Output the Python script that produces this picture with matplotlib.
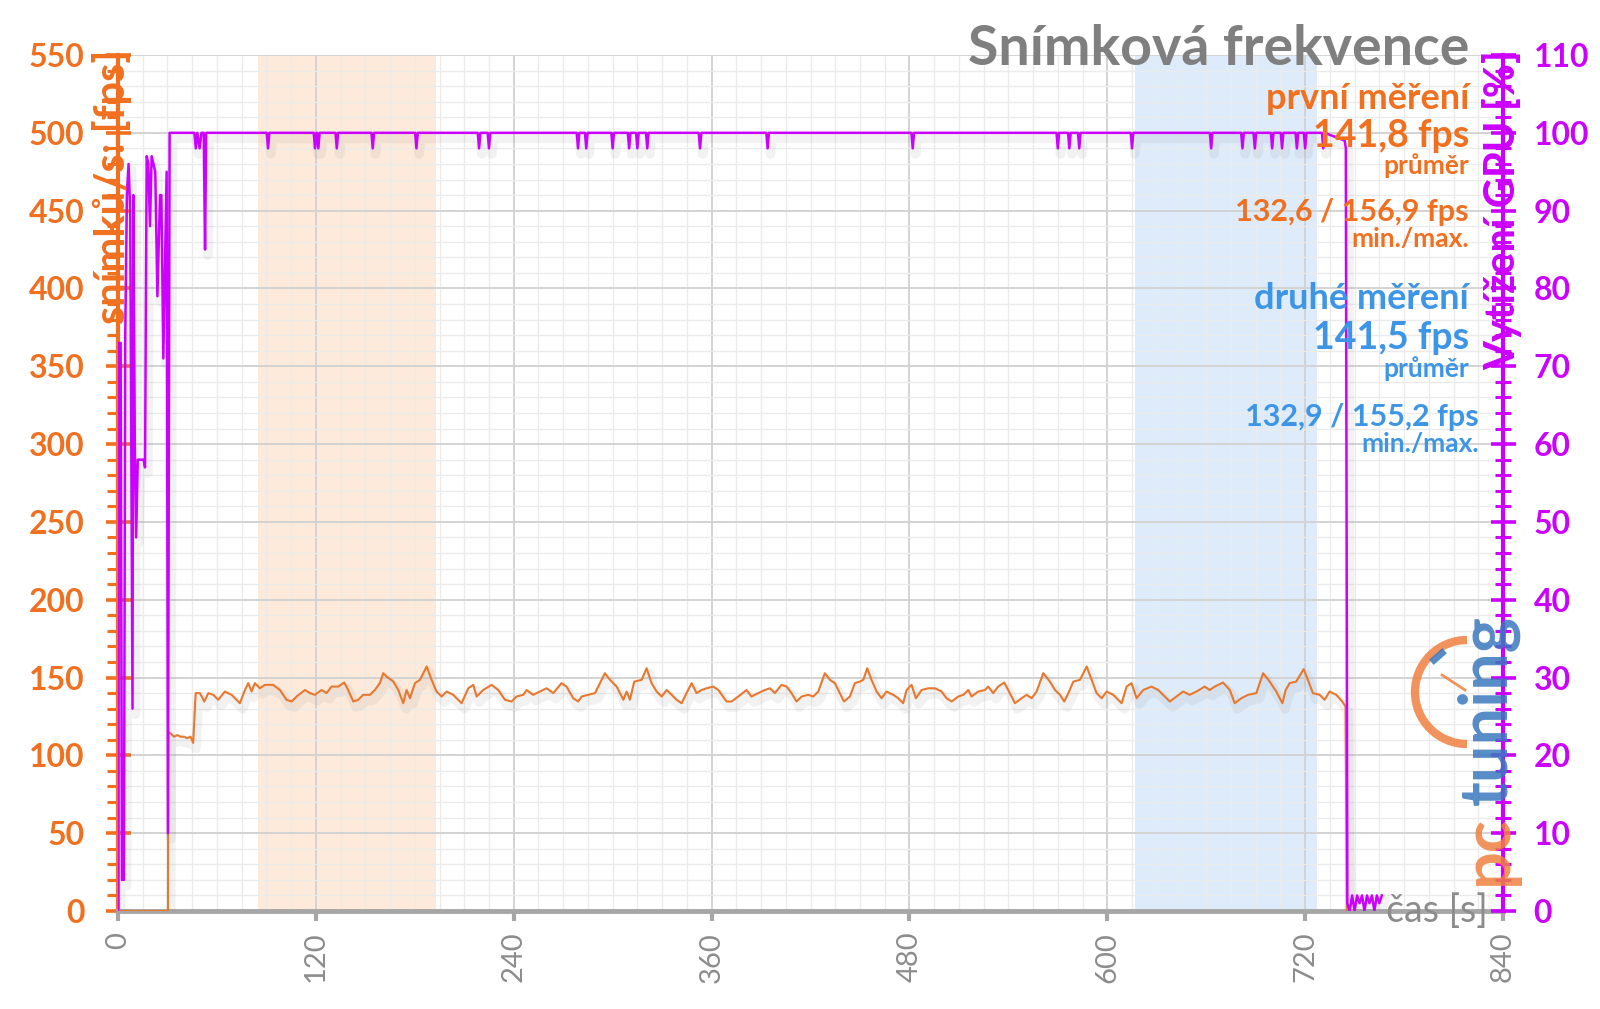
import matplotlib
matplotlib.use('Agg')
import matplotlib.pyplot as plt
import matplotlib.patheffects as pe
from matplotlib.patches import Arc
from matplotlib.ticker import MultipleLocator

plt.rcParams['font.family'] = ['Lato', 'DejaVu Sans']

# ---- data ----
fps_time = [0, 30.3, 30.5, 32, 34, 36, 38, 40, 42, 44, 45.6,
            47.1, 49.7, 52.3, 54.8, 57.8, 60.8, 64.8, 68.9, 73.9, 77, 79, 81, 83, 86, 89.1, 94.1, 98.2,
            102.2, 105.3, 108.3, 113.4, 116.4, 119.4, 123.5, 126.5, 129.5, 133.6, 137.2, 139.6, 142.7,
            145.7, 148.7, 152.8, 155.8, 158.8,
            160.9, 162.9, 167, 170, 173, 175, 177.1, 180.1, 183.1, 187.2, 190.2, 193.2, 196.3, 199.3,
            203.3, 208.4, 212.4, 215.5, 217.5, 221.5, 226.6, 230.6, 234.7, 238.7, 241.7, 245.8, 247.8,
            251.8, 255.9, 259.9, 264, 269, 272, 276.1,
            279.1, 281.2, 285.2, 289.3, 292.3, 295.3, 298.4, 302.4, 306.5, 308.5, 310.5, 313.1, 317.6,
            320.6, 323.6, 326.7, 329.7, 332.7, 335.8, 338.8, 341.8, 344.8, 347.9, 350.9, 353.9, 357,
            361, 364.1, 369.1, 372.1, 376.2, 381.2, 384.2, 388.3, 392.3,
            395.4, 398.4, 402.4, 405.5, 408.5, 411.5, 414.6, 418.6, 421.7, 424.7, 428.7, 431.8, 434.8,
            437.8, 440.3, 443.9, 446.9, 450, 452, 454.4, 457, 460.1, 463.1, 466.1, 470.2, 473.2, 476.2,
            478.3, 481.3, 483.9, 487.4, 491.4, 495.5, 499.5, 502.5, 505.6, 509.6, 512.7,
            515.7, 517.7, 521.7, 525.8, 527.8, 530.8, 533.8, 537.5, 539.9, 544, 548, 551.1, 554.1,
            557.1, 561.2, 565.2, 568.3, 571.3, 573.9, 576.4, 579.4, 583.4, 587.5, 590.5, 593.5, 596.6,
            599.6, 603.6, 608.7, 611.7, 614.7, 617.8, 621.8, 626.8, 630.9,
            634.9, 637.9, 641.9, 646, 650, 654.1, 659.1, 662.1, 665.2, 670.2, 674.3, 677.3, 681.3,
            685.4, 690.4, 694.5, 698.5, 702.5, 706.2, 708.2, 710.6, 714.6, 719.1, 721.7, 724.7, 728.8,
            731.8, 734.8, 738.9, 742.5, 744.5, 745.3]
fps_value = [0, 0, 115, 114, 112, 113, 112, 112, 111, 112, 108,
             140, 140, 134.6, 140, 138.9, 135.7, 141, 138.9, 133.5, 142, 146.4, 141, 146.4, 143.1, 145.3, 145.3, 142,
             135.7, 134.6, 137.8, 142, 140, 138.9, 142, 140, 144.2, 144.2, 146.8, 142, 134.6,
             135.7, 138.9, 138.9, 142, 146.4,
             152.8, 150.6, 147.4, 142, 133.5, 142, 136.7, 146.4, 148.5, 157.1, 148.5, 141, 137.8, 141,
             138.9, 133.5, 143.1, 145.3, 137.8, 142, 145.3, 142, 135.7, 134.6, 137.8, 138.9, 142,
             138.9, 141, 143.1, 140, 146.4, 144.2, 136.7,
             134.6, 137.8, 138.9, 140, 146.4, 152.8, 148.5, 144.2, 135.7, 141, 135.7, 147.4, 148.5,
             156, 146.4, 141, 137.8, 142, 138.9, 135.7, 133.5, 140, 146.4, 140, 142, 143.1,
             144.2, 142, 134.6, 134.6, 137.8, 142, 137.8, 140, 142,
             143.1, 140, 145.3, 144.2, 140, 134.6, 137.8, 138.9, 137.8, 141, 152.8, 148.5, 146.4,
             140, 134.6, 137.8, 146.4, 147.4, 148.5, 156, 148.5, 141, 136.7, 141, 138.9, 136.7, 133.5,
             142, 145.3, 136.7, 142, 143.1, 143.1, 141, 136.7, 134.6, 137.8, 138.9,
             142, 137.8, 141, 142, 144.2, 140, 144.2, 146.8, 142, 133.5, 136.7, 138.9, 136.7,
             141, 152.8, 147.4, 142, 138.9, 134.6, 140, 147.4, 148.5, 157.1, 148.5, 140, 136.7,
             141, 138.9, 133.5, 144.2, 146.4, 136.7, 142, 144.2, 142,
             137.8, 134.6, 137.8, 141, 138.9, 141, 144.2, 142, 144.2, 146.8, 142, 133.5, 136.7,
             138.9, 140, 152.8, 147.4, 141, 133.5, 142, 146.4, 147.4, 155.4, 148.5, 140, 138.9,
             135.7, 141, 138.9, 134.6, 131.4, 0]

gpu_start_time = [0, 0.6, 1.6, 2.4, 3.6, 4.4, 5.4, 6.4, 7.4, 8.8, 9.3, 10.2, 11.0, 12.0, 15.5, 16.4,
                  17.4, 18.4, 19.4, 20.4, 21.5, 22.6, 23.9, 25.5, 26.3, 27.5, 29.5, 30.3, 31.3,
                  46.3, 47.2, 48.1, 49.5, 50.6, 52.0, 52.8, 53.5]
gpu_start_value = [0, 73, 73, 4, 4, 74, 92, 96, 90, 26, 92, 60, 48, 58, 58, 57,
                   97, 96, 88, 97, 96, 95, 79, 92, 92, 71, 95, 10, 100,
                   100, 98, 100, 98, 100, 100, 85, 100]
gpu_dips = [91, 119.5, 121.5, 132.7, 154.5, 181, 219, 225, 279, 284, 300, 310, 315, 321, 353,
            394, 482, 570, 577, 583, 615, 663, 682, 689.5, 700, 706, 715, 720, 731]
gpu_end_time = [744.0, 744.7, 745.6, 747, 748.5, 750, 751.5, 753, 754.5, 756, 757.5, 759, 760.5,
                762, 763.5, 765, 766.5]
gpu_end_value = [99, 98, 1, 0, 2, 0, 2, 1, 2, 0, 2, 1, 2, 0, 2, 1, 2]

orange_window = (85, 193)
blue_window = (617, 727)

fps_ticks = [0, 50, 100, 150, 200, 250, 300, 350, 400, 450, 500, 550]
gpu_ticks = [0, 10, 20, 30, 40, 50, 60, 70, 80, 90, 100, 110]
time_ticks = [0, 120, 240, 360, 480, 600, 720, 840]

# build GPU series from the read points
gpu_time = list(gpu_start_time)
gpu_value = list(gpu_start_value)
for d in gpu_dips:
    gpu_time += [d - 0.8, d, d + 0.8]
    gpu_value += [100, 98, 100]
gpu_time += gpu_end_time
gpu_value += gpu_end_value

ORANGE = '#F07020'
LINE_OR = '#E8782E'
MAGENTA = '#CC00FF'
BLUE = '#3D95E6'
GRAY = '#7F7F7F'

W, H = 1600, 1009
def fx(x):
    return x / W
def fy(y):
    return 1 - y / H

fig = plt.figure(figsize=(16, 10.09), dpi=100)
ax = fig.add_axes([fx(118), fy(911), (1503 - 118) / W, (911 - 55) / H])

ax.axvspan(*orange_window, color='#FDEADB', zorder=0.1, lw=0)
ax.axvspan(*blue_window, color='#DDEBFA', zorder=0.1, lw=0)

shadow = [pe.SimpleLineShadow(offset=(2, -4), shadow_color='#888888', alpha=0.10, linewidth=7), pe.Normal()]
ax.plot(fps_time, fps_value, color=LINE_OR, lw=1.5, zorder=3, path_effects=shadow)

ax.set_xlim(0, 840)
ax.set_ylim(0, 550)
ax.set_xticks(time_ticks, [str(t) for t in time_ticks], rotation=90, color='#8C8C8C', fontsize=21)
ax.set_yticks(fps_ticks, [str(t) for t in fps_ticks], color=ORANGE, fontsize=23, fontweight='bold')
ax.xaxis.set_minor_locator(MultipleLocator(15))
ax.yaxis.set_minor_locator(MultipleLocator(10))
ax.set_axisbelow(True)
ax.grid(which='major', color='#D3D3D3', lw=1.4)
ax.grid(which='minor', color='#EBEBEB', lw=1.0)

for s in ['top', 'right']:
    ax.spines[s].set_visible(False)
ax.spines['left'].set_color(ORANGE)
ax.spines['left'].set_linewidth(3)
ax.spines['bottom'].set_color('#A6A6A6')
ax.spines['bottom'].set_linewidth(3.5)

ax.tick_params(axis='y', which='major', direction='inout', length=18, width=2.6, color=ORANGE, pad=15)
ax.tick_params(axis='y', which='minor', direction='out', length=8, width=2.2, color=ORANGE)
ax.tick_params(axis='x', which='major', direction='out', length=7, width=3, color='#A6A6A6', pad=8)
ax.tick_params(axis='x', which='minor', length=0)

ax2 = ax.twinx()
ax2.set_ylim(0, 110)
ax2.plot(gpu_time, gpu_value, color=MAGENTA, lw=1.8, zorder=4, path_effects=shadow)
ax2.set_yticks(gpu_ticks, [str(t) for t in gpu_ticks], color=MAGENTA, fontsize=23, fontweight='bold')
ax2.yaxis.set_minor_locator(MultipleLocator(2))
for s in ['top', 'left', 'bottom']:
    ax2.spines[s].set_visible(False)
ax2.spines['right'].set_color(MAGENTA)
ax2.spines['right'].set_linewidth(3)
ax2.tick_params(axis='y', which='major', direction='inout', length=18, width=2.6, color=MAGENTA, pad=13)
ax2.tick_params(axis='y', which='minor', direction='inout', length=12, width=2.2, color=MAGENTA)

# axis titles
fig.text(fx(112), fy(50), 'snímků/s: [fps]', rotation=90, ha='center', va='top',
         color=ORANGE, fontsize=30, fontweight='bold')
fig.text(fx(1502), fy(50), 'Vytížení GPU [%]', rotation=90, ha='center', va='top',
         color=MAGENTA, fontsize=30, fontweight='bold')
fig.text(fx(1488), fy(922), 'čas [s]', ha='right', va='baseline', color='#8C8C8C', fontsize=27)

# title and summary
fig.text(fx(1469), fy(65), 'Snímková frekvence', ha='right', va='baseline', color=GRAY,
         fontsize=40, fontweight='bold')
rows = [
    (1469, 109, 'první měření', ORANGE, 26),
    (1469, 147, '141,8 fps', ORANGE, 27),
    (1469, 174, 'průměr', ORANGE, 19),
    (1469, 221, '132,6 / 156,9 fps', ORANGE, 22),
    (1469, 247, 'min./max.', ORANGE, 19),
    (1469, 309, 'druhé měření', BLUE, 26),
    (1469, 349, '141,5 fps', BLUE, 27),
    (1469, 377, 'průměr', BLUE, 19),
    (1479, 426, '132,9 / 155,2 fps', BLUE, 22),
    (1479, 452, 'min./max.', BLUE, 19),
]
for x, y, txt, col, size in rows:
    fig.text(fx(x), fy(y), txt, ha='right', va='baseline', color=col, fontsize=size,
             fontweight='bold')

# pctuning watermark
fig.text(fx(1488), fy(885), 'pc', rotation=90, ha='center', va='bottom', color='#F08040',
         fontsize=48, fontweight='bold', alpha=0.85)
fig.text(fx(1488), fy(805), 'tuning', rotation=90, ha='center', va='bottom', color='#3A78BE',
         fontsize=48, fontweight='bold', alpha=0.85)
fig.add_artist(Arc((fx(1467), fy(692)), 104 / W, 104 / H, theta1=90, theta2=270,
                   transform=fig.transFigure, color='#F08040', lw=6, alpha=0.85))
fig.add_artist(plt.Line2D([fx(1442), fx(1465)], [fy(675), fy(690)], transform=fig.transFigure,
                          color='#F08040', lw=2, alpha=0.85))
fig.add_artist(plt.Line2D([fx(1434), fx(1442)], [fy(660), fy(653)], transform=fig.transFigure,
                          color='#3A78BE', lw=5, alpha=0.85))

fig.savefig('out.png', dpi=100)
